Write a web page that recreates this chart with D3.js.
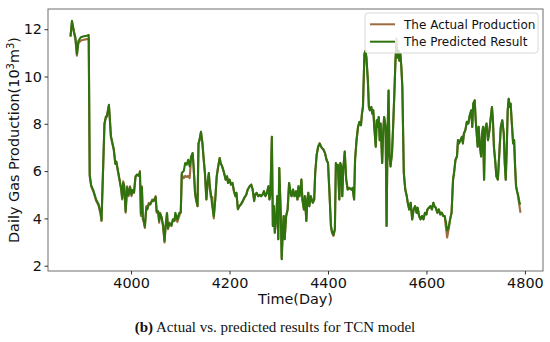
<!DOCTYPE html>
<html>
<head>
<meta charset="utf-8">
<script src="https://cdn.jsdelivr.net/npm/d3@7"></script>
<style>
  body { margin: 0; background: #fff; }
  svg { display: block; }
  .tick text { font-family: "DejaVu Sans", sans-serif; font-size: 14.4px; fill: #111; }
</style>
</head>
<body>
<div id="chart"></div>
<script>
// days of the test period
const days = [
  3877,3880,3884,3887,3890,3893,3898,3904,3910,3914,3916,3919,3924,3929,3934,3938,3940,3946,3949,3951,
  3955,3957,3959,3962,3965,3968,3970,3974,3977,3980,3982,3984,3986,3989,3992,3995,3998,4001,4003,4006,
  4009,4012,4016,4018,4020,4022,4024,4026,4028,4031,4033,4036,4039,4043,4046,4050,4052,4055,4057,4059,
  4062,4065,4068,4070,4073,4075,4078,4082,4085,4088,4090,4094,4098,4101,4103,4107,4110,4113,4116,4119,
  4122,4125,4127,4130,4132,4135,4137,4139,4142,4145,4147,4150,4153,4155,4158,4160,4162,4165,4168,4171,
  4174,4177,4180,4182,4185,4189,4192,4195,4197,4200,4203,4206,4209,4212,4214,4217,4220,4223,4227,4230,
  4234,4237,4241,4244,4247,4250,4252,4255,4258,4261,4264,4267,4270,4273,4276,4279,4281,4283,4286,4288,
  4290,4292,4295,4297,4299,4301,4304,4306,4308,4310,4312,4315,4318,4321,4324,4326,4329,4332,4335,4338,
  4340,4342,4344,4346,4348,4351,4353,4356,4358,4360,4362,4365,4367,4369,4372,4374,4377,4380,4383,4386,
  4388,4391,4394,4397,4400,4403,4406,4408,4411,4414,4416,4418,4420,4423,4425,4427,4429,4431,4434,4437,
  4440,4443,4447,4450,4453,4455,4458,4461,4464,4467,4469,4471,4474,4476,4478,4481,4483,4485,4488,4490,
  4492,4494,4497,4499,4501,4503,4505,4507,4510,4512,4514,4517,4519,4521,4523,4525,4527,4530,4532,4535,
  4537,4539,4541,4543,4545,4547,4549,4551,4554,4557,4560,4562,4565,4568,4571,4574,4577,4580,4582,4585,
  4588,4591,4594,4597,4600,4602,4605,4608,4611,4614,4616,4619,4622,4625,4628,4631,4634,4637,4639,4642,
  4645,4648,4651,4654,4656,4659,4662,4664,4666,4669,4672,4674,4676,4679,4682,4685,4688,4691,4693,4695,
  4698,4700,4702,4704,4706,4708,4711,4713,4715,4717,4719,4722,4725,4728,4730,4733,4735,4737,4740,4742,
  4745,4748,4751,4754,4757,4759,4761,4763,4765,4767,4769,4771,4773,4776,4778,4780,4782,4784,4786,4789,
  4791
];

// actual daily gas production (10^3 m^3)
const actual = [
  11.68,12.32,11.86,11.55,10.88,11.40,11.52,11.55,11.58,11.60,5.78,5.36,5.10,4.75,4.55,4.20,3.89,8.00,8.30,8.36,
  8.78,8.15,7.45,7.17,6.90,6.34,6.40,5.90,5.57,5.20,4.80,5.57,5.36,4.24,5.36,4.94,5.36,4.94,5.20,5.08,
  5.78,5.85,5.80,6.00,4.10,5.36,3.96,3.82,3.60,4.52,4.38,4.66,4.59,4.80,4.73,4.94,4.24,4.30,3.82,4.24,
  4.03,3.68,2.98,3.68,4.24,3.54,3.82,3.68,3.96,3.89,4.10,3.85,4.10,4.30,5.85,5.70,5.80,5.75,5.80,5.70,
  6.50,6.76,6.20,5.08,4.80,4.52,7.17,7.31,7.66,7.17,6.62,5.92,4.80,5.43,5.92,5.20,4.90,4.90,4.00,4.80,
  5.78,6.20,6.55,6.34,6.20,5.92,5.64,5.78,5.50,5.64,5.43,5.50,5.15,4.94,5.08,4.38,4.52,4.59,4.73,4.87,
  5.00,5.22,5.36,5.43,5.22,4.73,5.00,5.08,4.94,5.00,4.94,5.00,5.15,4.94,5.08,5.36,4.80,5.00,7.45,3.68,
  4.52,3.40,4.10,4.94,3.12,6.13,4.24,2.28,3.40,4.10,3.12,4.10,4.38,5.50,5.08,4.94,5.22,4.94,5.15,4.80,
  5.36,4.94,5.15,5.64,4.80,4.38,4.94,3.89,4.80,5.08,4.52,4.94,4.80,4.66,4.80,5.92,6.69,7.03,7.17,7.03,
  6.97,6.90,6.76,6.48,6.34,5.08,3.68,3.40,3.26,3.54,6.34,6.06,6.27,4.80,6.34,6.20,4.94,6.06,6.83,5.64,
  5.22,5.29,5.22,5.29,4.80,6.48,7.31,7.87,8.08,7.94,8.43,8.71,10.95,11.09,10.81,9.83,8.71,8.57,8.71,8.43,
  8.57,7.87,7.03,8.15,7.87,8.29,7.31,8.01,6.34,7.59,8.29,7.87,3.68,7.59,9.41,6.62,6.20,6.76,7.73,9.41,
  10.67,11.60,10.81,11.09,10.67,10.95,10.39,9.55,5.92,5.22,4.94,4.66,4.38,4.66,3.96,4.38,4.52,4.24,4.45,4.10,
  3.96,4.10,3.96,4.24,4.17,4.38,4.45,4.52,4.38,4.66,4.52,4.45,4.24,4.38,4.17,4.24,4.10,4.10,3.70,3.19,
  3.54,3.96,4.24,5.64,5.92,6.48,6.62,7.31,7.17,7.31,7.45,7.17,7.59,7.73,8.08,8.01,8.36,8.57,7.87,8.85,
  8.99,8.15,7.59,7.03,7.87,7.17,6.62,7.59,7.87,5.64,7.73,8.01,7.31,7.73,8.15,8.71,8.15,7.03,6.34,5.78,
  5.64,6.76,7.87,8.15,7.59,6.34,5.64,6.90,8.57,9.06,8.71,8.85,8.15,7.17,7.31,6.20,5.36,5.15,4.94,4.50,
  4.24
];

// TCN predicted result (10^3 m^3)
const predicted = [
  11.70,12.35,11.90,11.65,10.95,11.50,11.66,11.70,11.72,11.75,5.85,5.40,5.15,4.80,4.60,4.24,3.92,8.00,8.30,8.30,
  8.80,8.20,7.50,7.20,6.90,6.30,6.40,5.95,5.60,5.25,4.85,5.50,5.40,4.30,5.30,5.00,5.30,5.00,5.20,5.10,
  5.75,5.85,5.80,5.95,4.20,5.30,4.00,3.90,3.65,4.45,4.40,4.60,4.60,4.75,4.75,4.90,4.30,4.30,3.90,4.20,
  4.05,3.70,3.05,3.60,4.20,3.60,3.80,3.70,3.95,3.90,4.24,3.96,4.24,4.24,5.92,6.00,6.34,6.27,6.48,6.20,
  6.62,6.76,6.20,5.08,4.80,4.52,7.17,7.31,7.66,7.17,6.62,5.92,4.80,5.43,5.92,5.36,5.08,4.50,4.10,4.80,
  5.78,6.20,6.55,6.34,6.20,5.92,5.64,5.78,5.50,5.64,5.43,5.50,5.15,4.94,5.08,4.40,4.52,4.59,4.73,4.87,
  5.00,5.22,5.36,5.43,5.22,4.75,5.00,5.08,4.94,5.00,4.94,5.00,5.15,4.94,5.08,5.36,4.80,5.00,7.45,3.68,
  4.52,3.40,4.10,4.94,3.12,6.13,4.24,2.28,3.40,4.10,3.12,4.10,4.38,5.50,5.08,4.94,5.22,4.94,5.15,4.80,
  5.36,4.94,5.15,5.64,4.80,4.38,4.94,3.89,4.80,5.08,4.52,4.94,4.80,4.66,4.80,5.92,6.69,7.03,7.17,7.03,
  6.97,6.90,6.76,6.48,6.34,5.08,3.68,3.45,3.30,3.54,6.34,6.06,6.27,4.80,6.34,6.20,4.94,6.06,6.83,5.64,
  5.22,5.29,5.22,5.29,4.80,6.48,7.31,7.87,8.08,7.94,8.43,8.71,10.95,11.09,10.81,9.83,8.71,8.57,8.71,8.43,
  8.57,7.87,7.03,8.15,7.87,8.29,7.31,8.01,6.34,7.59,8.29,7.87,3.68,7.59,9.41,6.62,6.20,6.76,7.73,9.41,
  10.67,11.23,10.81,11.09,10.67,10.95,10.39,9.55,5.92,5.22,4.94,4.66,4.38,4.66,3.96,4.38,4.52,4.24,4.45,4.10,
  3.96,4.10,3.96,4.24,4.17,4.38,4.45,4.52,4.38,4.66,4.52,4.45,4.24,4.38,4.17,4.24,4.10,4.10,3.90,3.50,
  3.60,3.96,4.24,5.64,5.92,6.48,6.62,7.31,7.17,7.31,7.45,7.17,7.59,7.73,8.08,8.01,8.36,8.57,7.87,8.85,
  8.99,8.15,7.59,7.03,7.87,7.17,6.62,7.59,7.87,5.64,7.73,8.01,7.31,7.73,8.15,8.71,8.15,7.03,6.34,5.78,
  5.64,6.76,7.87,8.15,7.59,6.34,5.64,6.90,8.57,9.06,8.71,8.85,8.15,7.17,7.31,6.20,5.36,5.15,5.00,4.66,
  4.59
];

const xTicks = [4000, 4200, 4400, 4600, 4800];
const yTicks = [2, 4, 6, 8, 10, 12];
const seriesNames = ["The Actual Production", "The Predicted Result"];
const seriesColors = ["#9c6b3e", "#2f730f"];

const W = 550, H = 342;
const margin = { left: 48, right: 7, top: 9, bottom: 71 };
const width = W - margin.left - margin.right;
const height = H - margin.top - margin.bottom;

const svg = d3.select("#chart").append("svg")
  .attr("width", W)
  .attr("height", H);

const g = svg.append("g")
  .attr("transform", `translate(${margin.left},${margin.top})`);

// matplotlib-style 5% padding around the data
const xExt = d3.extent(days);
const allY = actual.concat(predicted);
const yExt = d3.extent(allY);
const xPad = (xExt[1] - xExt[0]) * 0.05;
const yPad = (yExt[1] - yExt[0]) * 0.05;

const x = d3.scaleLinear().domain([xExt[0] - xPad, xExt[1] + xPad]).range([0, width]);
const y = d3.scaleLinear().domain([yExt[0] - yPad, yExt[1] + yPad]).range([height, 0]);

const line = d3.line()
  .x((d, i) => x(days[i]))
  .y(d => y(d));

[actual, predicted].forEach((s, k) => {
  g.append("path")
    .datum(s)
    .attr("fill", "none")
    .attr("stroke", seriesColors[k])
    .attr("stroke-width", 2.1)
    .attr("stroke-linejoin", "round")
    .attr("d", line);
});

// frame
g.append("rect")
  .attr("width", width)
  .attr("height", height)
  .attr("fill", "none")
  .attr("stroke", "#6e6e6e")
  .attr("stroke-width", 1);

const xAxis = g.append("g")
  .attr("transform", `translate(0,${height})`)
  .call(d3.axisBottom(x).tickValues(xTicks).tickFormat(d3.format("d")).tickSize(3.5).tickPadding(3.5));
const yAxis = g.append("g")
  .call(d3.axisLeft(y).tickValues(yTicks).tickFormat(d3.format("d")).tickSize(3.5).tickPadding(2.5));
[xAxis, yAxis].forEach(a => {
  a.select(".domain").remove();
  a.selectAll(".tick line").attr("stroke", "#333");
});

svg.append("text")
  .attr("x", margin.left + width / 2)
  .attr("y", 304)
  .attr("text-anchor", "middle")
  .style("font-family", "DejaVu Sans, sans-serif")
  .style("font-size", "14.4px")
  .attr("fill", "#111")
  .text("Time(Day)");

const yl = svg.append("text")
  .attr("transform", `translate(19,${margin.top + height / 2})rotate(-90)`)
  .attr("text-anchor", "middle")
  .style("font-family", "DejaVu Sans, sans-serif")
  .style("font-size", "14.4px")
  .attr("fill", "#111");
yl.append("tspan").text("Daily Gas Production(10");
yl.append("tspan").attr("dy", -5).style("font-size", "10px").text("3");
yl.append("tspan").attr("dy", 5).text("m");
yl.append("tspan").attr("dy", -5).style("font-size", "10px").text("3");
yl.append("tspan").attr("dy", 5).text(")");

// legend
const legend = svg.append("g").attr("transform", "translate(365,13)");
legend.append("rect")
  .attr("width", 173)
  .attr("height", 40)
  .attr("rx", 3)
  .attr("fill", "#fff")
  .attr("fill-opacity", 0.8)
  .attr("stroke", "#d8d8d8");
seriesNames.forEach((name, i) => {
  const ly = 11.3 + i * 17.4;
  legend.append("line")
    .attr("x1", 5).attr("x2", 30)
    .attr("y1", ly).attr("y2", ly)
    .attr("stroke", seriesColors[i])
    .attr("stroke-width", 2);
  legend.append("text")
    .attr("x", 39)
    .attr("y", ly + 4.4)
    .style("font-family", "DejaVu Sans, sans-serif")
    .style("font-size", "12px")
    .attr("fill", "#111")
    .text(name);
});

// caption
const cap = svg.append("text")
  .attr("x", 275)
  .attr("y", 332)
  .attr("text-anchor", "middle")
  .style("font-family", "Liberation Serif, serif")
  .style("font-size", "15px")
  .attr("fill", "#111");
cap.append("tspan").style("font-weight", "bold").text("(b)");
cap.append("tspan").text(" Actual vs. predicted results for TCN model");
</script>
</body>
</html>
